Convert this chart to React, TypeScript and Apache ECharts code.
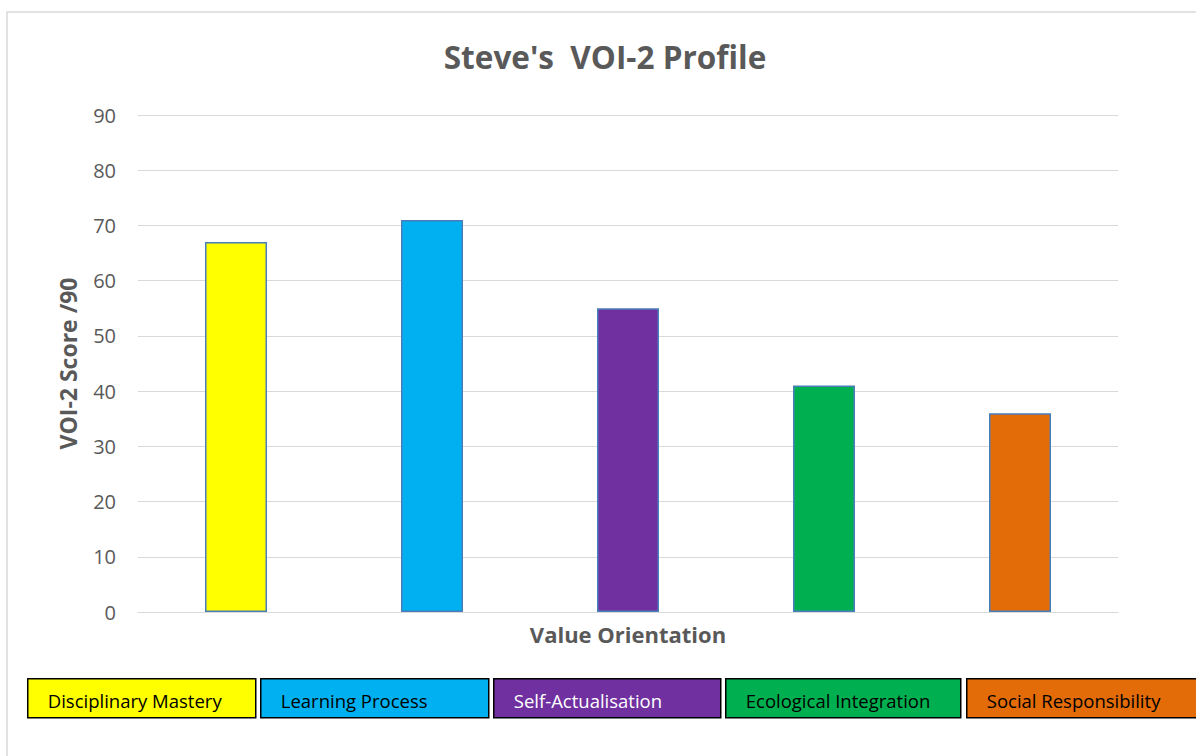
import React, { useEffect, useRef } from "react";
import * as echarts from "echarts";

const categories = [
  "Disciplinary Mastery",
  "Learning Process",
  "Self-Actualisation",
  "Ecological Integration",
  "Social Responsibility",
];
const scores = [67, 71, 55, 41, 36];
const barColors = ["#FFFF00", "#00B0F0", "#7030A0", "#00B050", "#E36C09"];
const legendTextColors = ["#000000", "#000000", "#FFFFFF", "#000000", "#000000"];
const titleText = "Steve's  VOI-2 Profile";
const yAxisName = "VOI-2 Score /90";
const xAxisName = "Value Orientation";

const FONT = "'Open Sans', 'Noto Sans', sans-serif";

export default function App() {
  const ref = useRef<HTMLDivElement>(null);
  useEffect(() => {
    if (!ref.current) return;
    const chart = echarts.init(ref.current, null, { renderer: "svg" });

    const boxX = [27, 260, 493, 725, 966];
    const boxW = [228, 228, 227, 235, 232];
    const legendGraphics = categories.map((name, i) => ({
      type: "group",
      left: boxX[i],
      top: 678,
      children: [
        {
          type: "rect",
          shape: { x: 0, y: 0, width: boxW[i], height: 39 },
          style: { fill: barColors[i], stroke: "#000000", lineWidth: 1.5 },
        },
        {
          type: "text",
          x: 20,
          y: 22,
          style: {
            text: name,
            fill: legendTextColors[i],
            font: `18.5px ${FONT}`,
            verticalAlign: "middle",
            align: "left",
          },
        },
      ],
    }));

    chart.setOption({
      animation: false,
      backgroundColor: "#FFFFFF",
      title: {
        text: titleText,
        left: 600,
        textAlign: "center",
        top: 35,
        textStyle: {
          fontFamily: FONT,
          fontSize: 31.5,
          fontWeight: "bold",
          color: "#595959",
        },
      },
      grid: { left: 138, right: 78, top: 115, bottom: 144 },
      xAxis: {
        type: "category",
        data: categories,
        axisLabel: { show: false },
        axisTick: { show: false },
        axisLine: { lineStyle: { color: "#D9D9D9", width: 1 } },
        name: xAxisName,
        nameLocation: "middle",
        nameGap: 11,
        nameTextStyle: {
          fontFamily: FONT,
          fontSize: 22,
          fontWeight: "bold",
          color: "#595959",
        },
      },
      yAxis: {
        type: "value",
        min: 0,
        max: 90,
        interval: 10,
        axisLine: { show: false },
        axisTick: { show: false },
        splitLine: { lineStyle: { color: "#D9D9D9", width: 1 } },
        axisLabel: {
          fontFamily: FONT,
          fontSize: 20,
          color: "#595959",
          margin: 22,
        },
        name: yAxisName,
        nameLocation: "middle",
        nameGap: 59,
        nameTextStyle: {
          fontFamily: FONT,
          fontSize: 23,
          fontWeight: "bold",
          color: "#595959",
        },
      },
      series: [
        {
          type: "bar",
          data: scores.map((v, i) => ({
            value: v,
            itemStyle: { color: barColors[i] },
          })),
          barWidth: 62,
          itemStyle: { borderColor: "#4A7EBB", borderWidth: 1.5 },
        },
      ],
      graphic: [
        {
          type: "rect",
          shape: { x: 7, y: 12, width: 1300, height: 800 },
          style: { fill: "none", stroke: "#D9D9D9", lineWidth: 1.5 },
          z: -1,
        },
        ...legendGraphics,
      ],
    });
    return () => chart.dispose();
  }, []);
  return <div ref={ref} style={{ width: 1196, height: 756, position: "absolute", left: 0, top: 0 }} />;
}
